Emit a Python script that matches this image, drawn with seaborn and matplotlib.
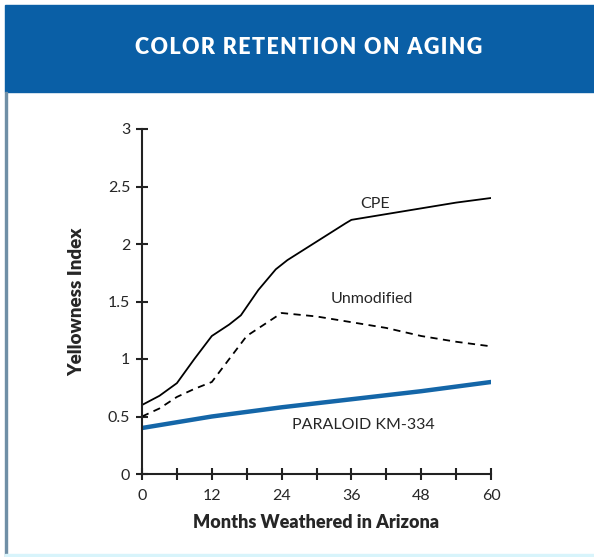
import pandas as pd
import seaborn as sns
import matplotlib.pyplot as plt
from matplotlib.patches import Rectangle
from matplotlib.ticker import MultipleLocator

# data
cpe_months = [0, 3, 6, 9, 12, 15, 17, 20, 23, 25, 30, 35, 36, 42, 48, 54, 60]
cpe_yi = [0.6, 0.68, 0.79, 1.0, 1.2, 1.3, 1.38, 1.6, 1.78, 1.86, 2.02, 2.18, 2.21, 2.26, 2.31, 2.36, 2.4]

unmod_months = [0, 3, 6, 9, 12, 15, 18, 21, 24, 30, 36, 42, 48, 54, 60]
unmod_yi = [0.5, 0.57, 0.67, 0.74, 0.8, 1.0, 1.2, 1.3, 1.4, 1.37, 1.32, 1.27, 1.2, 1.15, 1.11]

km_months = [0, 12, 24, 36, 48, 60]
km_yi = [0.4, 0.5, 0.58, 0.65, 0.72, 0.8]

df = pd.concat([
    pd.DataFrame({'months': cpe_months, 'yi': cpe_yi, 'series': 'CPE'}),
    pd.DataFrame({'months': unmod_months, 'yi': unmod_yi, 'series': 'Unmodified'}),
    pd.DataFrame({'months': km_months, 'yi': km_yi, 'series': 'PARALOID KM-334'}),
])

sns.set_style('white')
plt.rcParams['font.family'] = ['Lato', 'DejaVu Sans']

fig = plt.figure(figsize=(5.94, 5.57), dpi=100)
W, H = 594, 557

# blue header band and frame
fig.patches.append(Rectangle((5 / W, 1 - 92 / H), 1 - 5 / W, 87 / H,
                             transform=fig.transFigure, color='#0a5fa6', zorder=0))
fig.patches.append(Rectangle((5 / W, 0), 2 / W, 1 - 92 / H,
                             transform=fig.transFigure, color='#6f8fa6', zorder=0))
fig.patches.append(Rectangle((5 / W, 0), 1 - 5 / W, 3 / H,
                             transform=fig.transFigure, color='#d8f4fb', zorder=0))
title = '\u200a'.join('COLOR RETENTION ON AGING')
fig.text(0.5 + 12 / W, 1 - 47 / H, title,
         color='white', fontsize=15.5, fontweight='heavy', ha='center', va='center')

ax = fig.add_axes([142 / W, 1 - 474 / H, 349 / W, 345 / H])
ax.patch.set_alpha(0)

sns.lineplot(data=df[df.series == 'CPE'], x='months', y='yi', color='black', lw=1.3, ax=ax)
sns.lineplot(data=df[df.series == 'Unmodified'], x='months', y='yi', color='black', lw=1.3,
             ax=ax, linestyle=(0, (4, 3)))
sns.lineplot(data=df[df.series == 'PARALOID KM-334'], x='months', y='yi',
             color='#1466a8', lw=3.2, ax=ax)

ax.text(40, 2.35, 'CPE', fontsize=11.5, ha='center', va='center')
ax.text(39.5, 1.52, 'Unmodified', fontsize=11.5, ha='center', va='center')
ax.text(38, 0.43, 'PARALOID KM-334', fontsize=11.5, ha='center', va='center')

ax.set_xlim(0, 60)
ax.set_ylim(0, 3)
ax.set_xticks([0, 12, 24, 36, 48, 60])
ax.xaxis.set_minor_locator(MultipleLocator(6))
ax.set_yticks([0, 0.5, 1, 1.5, 2, 2.5, 3])
ax.set_yticklabels(['0', '0.5', '1', '1.5', '2', '2.5', '3'])
for s in ['top', 'right']:
    ax.spines[s].set_visible(False)
for s in ['left', 'bottom']:
    ax.spines[s].set_color('#222222')
    ax.spines[s].set_linewidth(1.5)
ax.tick_params(axis='both', which='both', direction='inout', length=9, width=1.5,
               color='#222222', labelsize=11.5, pad=4, bottom=True, left=True)
ax.tick_params(axis='x', which='major', pad=6)

ax.set_xlabel('Months Weathered in Arizona', fontsize=13, fontweight='heavy', labelpad=8)
ax.set_ylabel('Yellowness Index', fontsize=13.5, fontweight='heavy', labelpad=16)

fig.savefig('out.png', dpi=100)
